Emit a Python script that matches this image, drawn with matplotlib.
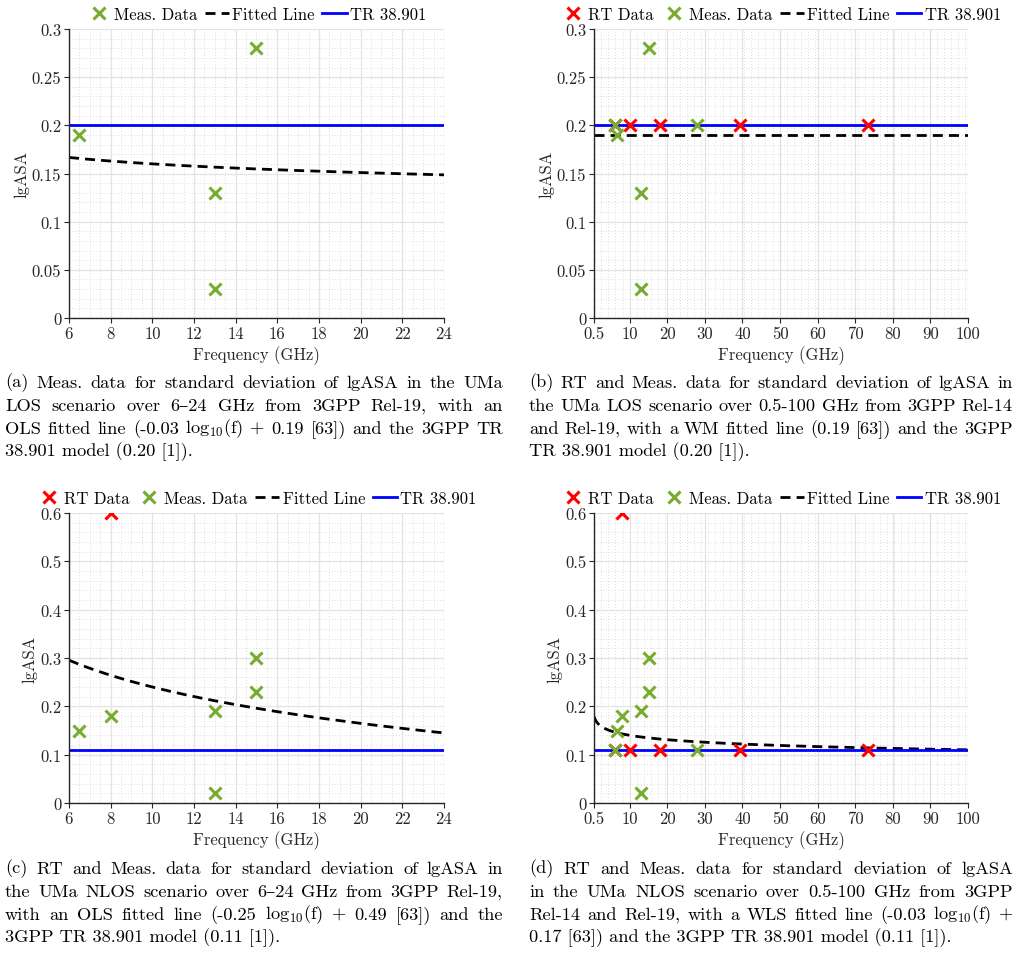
import numpy as np
from matplotlib import pyplot as plt
from matplotlib.ticker import AutoMinorLocator, FormatStrFormatter

plt.rcParams['font.family'] = ['cmr10', 'DejaVu Serif']
plt.rcParams['mathtext.fontset'] = 'cm'
plt.rcParams['axes.unicode_minus'] = False

GREEN = '#77AC30'

# (a) UMa LOS, 6-24 GHz
meas_f_a = [6.5, 13, 13, 15]
meas_v_a = [0.19, 0.13, 0.03, 0.28]
fit_a = (-0.03, 0.19)
tr_a = 0.20

# (b) UMa LOS, 0.5-100 GHz
rt_f_b = [6, 10, 18, 39.3, 73.5]
rt_v_b = [0.20, 0.20, 0.20, 0.20, 0.20]
meas_f_b = [6, 6.5, 13, 13, 15, 28]
meas_v_b = [0.20, 0.19, 0.13, 0.03, 0.28, 0.20]
fit_b = (0.0, 0.19)
tr_b = 0.20

# (c) UMa NLOS, 6-24 GHz
rt_f_c = [8]
rt_v_c = [0.60]
meas_f_c = [6.5, 8, 13, 13, 15, 15]
meas_v_c = [0.15, 0.18, 0.19, 0.02, 0.30, 0.23]
fit_c = (-0.25, 0.49)
tr_c = 0.11

# (d) UMa NLOS, 0.5-100 GHz
rt_f_d = [6, 8, 10, 18, 39.3, 73.5]
rt_v_d = [0.11, 0.60, 0.11, 0.11, 0.11, 0.11]
meas_f_d = [6, 6.5, 8, 13, 13, 15, 15, 28]
meas_v_d = [0.11, 0.15, 0.18, 0.19, 0.02, 0.30, 0.23, 0.11]
fit_d = (-0.03, 0.17)
tr_d = 0.11

captions = {
    'a': ["(a) Meas. data for standard deviation of lgASA in the UMa",
          "LOS scenario over 6–24 GHz from 3GPP Rel-19, with an",
          "OLS fitted line (-0.03 log$_{10}$(f) + 0.19 [63]) and the 3GPP TR",
          "38.901 model (0.20 [1])."],
    'b': ["(b) RT and Meas. data for standard deviation of lgASA in",
          "the UMa LOS scenario over 0.5-100 GHz from 3GPP Rel-14",
          "and Rel-19, with a WM fitted line (0.19 [63]) and the 3GPP",
          "TR 38.901 model (0.20 [1])."],
    'c': ["(c) RT and Meas. data for standard deviation of lgASA in",
          "the UMa NLOS scenario over 6–24 GHz from 3GPP Rel-19,",
          "with an OLS fitted line (-0.25 log$_{10}$(f) + 0.49 [63]) and the",
          "3GPP TR 38.901 model (0.11 [1])."],
    'd': ["(d) RT and Meas.  data for standard deviation of lgASA",
          "in the UMa NLOS scenario over 0.5-100 GHz from 3GPP",
          "Rel-14 and Rel-19, with a WLS fitted line (-0.03 log$_{10}$(f) +",
          "0.17 [63]) and the 3GPP TR 38.901 model (0.11 [1])."],
}

W, H = 1020, 954
fig = plt.figure(figsize=(W / 100, H / 100), dpi=100)
FS = 12


def px_axes(x0, y0, x1, y1):
    return fig.add_axes([x0 / W, 1 - y1 / H, (x1 - x0) / W, (y1 - y0) / H])


def draw_panel(ax, rt_f, rt_v, meas_f, meas_v, fit, tr, xlim, xticks, ylim, yticks):
    handles = []
    if rt_f is not None:
        h, = ax.plot(rt_f, rt_v, 'x', color='red', ms=9, mew=2.2, ls='none', label='RT Data', zorder=5)
        handles.append(h)
    h, = ax.plot(meas_f, meas_v, 'x', color=GREEN, ms=9, mew=2.2, ls='none', label='Meas. Data', zorder=5)
    handles.append(h)
    f = np.linspace(xlim[0], xlim[1], 400)
    h, = ax.plot(f, fit[0] * np.log10(f) + fit[1], '--', color='black', lw=2,
                 dashes=(3.6, 2.2), label='Fitted Line')
    handles.append(h)
    h, = ax.plot(xlim, [tr, tr], '-', color='blue', lw=2, label='TR 38.901')
    handles.append(h)

    ax.set_xlim(xlim)
    ax.set_ylim(ylim)
    ax.set_xticks(xticks)
    ax.set_yticks(yticks)
    ax.yaxis.set_major_formatter(FormatStrFormatter('%g'))
    ax.xaxis.set_major_formatter(FormatStrFormatter('%g'))
    ax.xaxis.set_minor_locator(AutoMinorLocator(4 if xlim[1] < 50 else 5))
    ax.yaxis.set_minor_locator(AutoMinorLocator(5))
    ax.grid(which='major', color='#e3e3e3', lw=0.9)
    ax.grid(which='minor', color='#d2d2d2', lw=0.6, ls=(0, (1, 2.5)))
    ax.set_axisbelow(True)
    for s in ['top', 'right']:
        ax.spines[s].set_visible(False)
    for s in ['left', 'bottom']:
        ax.spines[s].set_color('#262626')
        ax.spines[s].set_linewidth(1.0)
    ax.tick_params(which='major', direction='out', length=3.5, width=0.8, colors='#262626',
                   labelsize=FS, labelcolor='#262626', pad=2)
    ax.tick_params(which='minor', length=0)
    ax.set_xlabel('Frequency (GHz)', fontsize=FS, color='#262626', labelpad=3)
    ax.set_ylabel('lgASA', fontsize=FS, color='#262626', labelpad=2)
    ax.legend(handles=handles, loc='lower center', bbox_to_anchor=(0.5, 1.025), ncol=4,
              frameon=False, fontsize=FS, handlelength=1.45, handletextpad=0.2,
              columnspacing=0.45, borderaxespad=0.0, borderpad=0.0)


def justify(lines, x0, x1, y0, dy, size=13.2):
    r = fig.canvas.get_renderer()
    for i, line in enumerate(lines):
        y = 1 - (y0 + i * dy) / H
        words = line.split()
        if i == len(lines) - 1:
            fig.text(x0 / W, y, line, fontsize=size, va='center', ha='left')
            continue
        ts = [fig.text(0, y, w_, fontsize=size, va='center', ha='left') for w_ in words]
        widths = [t.get_window_extent(r).width for t in ts]
        gap = (x1 - x0 - sum(widths)) / (len(words) - 1)
        x = x0
        for t, wd in zip(ts, widths):
            t.set_x(x / W)
            x += wd + gap


ax_a = px_axes(69, 30, 444, 319)
draw_panel(ax_a, None, None, meas_f_a, meas_v_a, fit_a, tr_a, (6, 24), np.arange(6, 25, 2),
           (0, 0.3), np.arange(0, 0.301, 0.05))
ax_b = px_axes(594, 30, 968, 319)
draw_panel(ax_b, rt_f_b, rt_v_b, meas_f_b, meas_v_b, fit_b, tr_b, (0.5, 100),
           [0.5] + list(range(10, 101, 10)), (0, 0.3), np.arange(0, 0.301, 0.05))
ax_c = px_axes(69, 514, 444, 804)
draw_panel(ax_c, rt_f_c, rt_v_c, meas_f_c, meas_v_c, fit_c, tr_c, (6, 24), np.arange(6, 25, 2),
           (0, 0.6), np.arange(0, 0.601, 0.1))
ax_d = px_axes(594, 514, 968, 804)
draw_panel(ax_d, rt_f_d, rt_v_d, meas_f_d, meas_v_d, fit_d, tr_d, (0.5, 100),
           [0.5] + list(range(10, 101, 10)), (0, 0.6), np.arange(0, 0.601, 0.1))

justify(captions['a'], 5, 503, 383, 23)
justify(captions['b'], 529, 1013, 383, 23)
justify(captions['c'], 5, 503, 869, 23)
justify(captions['d'], 529, 1013, 869, 23)

fig.savefig('out.png', dpi=100)
